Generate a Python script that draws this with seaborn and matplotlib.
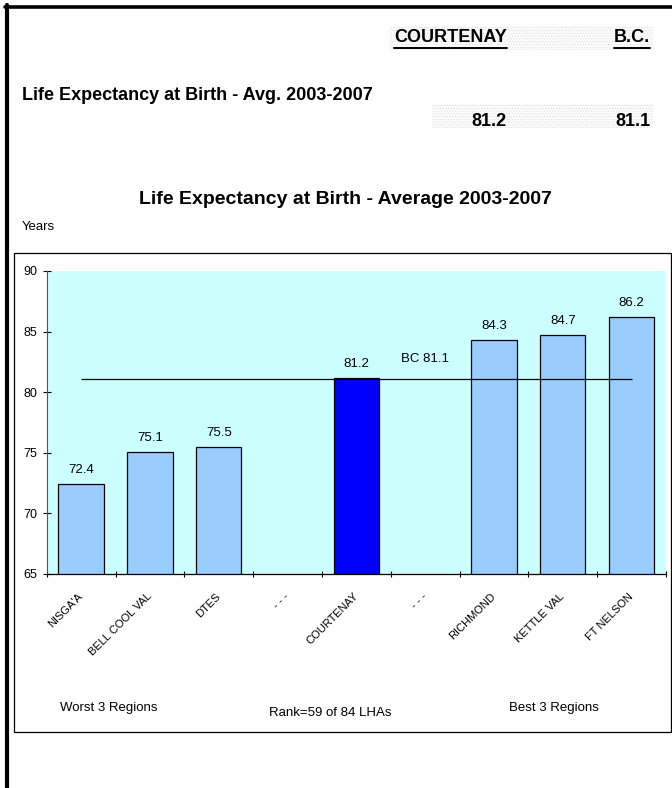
import numpy as np
import pandas as pd
import matplotlib
matplotlib.use("Agg")
import matplotlib.pyplot as plt
from matplotlib.patches import Rectangle
from matplotlib.lines import Line2D
import seaborn as sns

# ── Data ────────────────────────────────────────────────
regions = ["NISGA'A", "BELL COOL VAL", "DTES", "- - -", "COURTENAY",
           "- - -", "RICHMOND", "KETTLE VAL", "FT NELSON"]
life_exp = [72.4, 75.1, 75.5, np.nan, 81.2, np.nan, 84.3, 84.7, 86.2]
group = ["other", "other", "other", "other", "local",
         "other", "other", "other", "other"]
bc_value = 81.1
local_name = "COURTENAY"
local_value = 81.2
yticks = [65, 70, 75, 80, 85, 90]
footer = ["Worst 3 Regions", "Rank=59 of 84 LHAs", "Best 3 Regions"]

# ── Style ───────────────────────────────────────────────
sns.set_style("ticks")
plt.rcParams["font.family"] = ["Liberation Sans", "DejaVu Sans"]
plt.rcParams["text.color"] = "black"
plt.rcParams["xtick.color"] = "black"
plt.rcParams["ytick.color"] = "black"
plt.rcParams["hatch.linewidth"] = 0.3

W, H = 672, 788


def fx(px):
    return px / W


def fy(py):
    return 1 - py / H


fig = plt.figure(figsize=(W / 100, H / 100), dpi=100)

# page borders (left + top)
fig.add_artist(Line2D([fx(7), fx(7)], [fy(5), 0], color="black", lw=3,
                      transform=fig.transFigure))
fig.add_artist(Line2D([fx(5), 1], [fy(6.5), fy(6.5)], color="black", lw=2.6,
                      transform=fig.transFigure))

# dotted header cells
for (x0, y0, x1, y1) in [(390, 26, 653, 50), (432, 104, 653, 128)]:
    fig.add_artist(Rectangle((fx(x0), fy(y1)), (x1 - x0) / W, (y1 - y0) / H,
                             transform=fig.transFigure, facecolor="#fbfbfb",
                             edgecolor="#d6d6d6", lw=0, hatch="......",
                             zorder=0))

# header table
hdr = []
hdr.append(fig.text(fx(507), fy(38), local_name, ha="right", va="center",
                    fontsize=13, fontweight="bold"))
hdr.append(fig.text(fx(650), fy(38), "B.C.", ha="right", va="center",
                    fontsize=13, fontweight="bold"))
fig.text(fx(22), fy(95), "Life Expectancy at Birth - Avg. 2003-2007",
         ha="left", va="center", fontsize=13, fontweight="bold")
fig.text(fx(507), fy(121), f"{local_value}", ha="right", va="center",
         fontsize=13, fontweight="bold")
fig.text(fx(650), fy(121), f"{bc_value}", ha="right", va="center",
         fontsize=13, fontweight="bold")

# chart frame
fig.add_artist(Rectangle((fx(14), fy(732)), (671 - 14) / W, (732 - 253) / H,
                         transform=fig.transFigure, fill=False,
                         edgecolor="black", lw=0.9))
fig.text(fx(345), fy(199), "Life Expectancy at Birth - Average 2003-2007",
         ha="center", va="center", fontsize=14, fontweight="bold")
fig.text(fx(22), fy(227), "Years", ha="left", va="center", fontsize=9.5)

# ── Bar chart ───────────────────────────────────────────
df = pd.DataFrame({"slot": range(len(regions)), "value": life_exp,
                   "group": group})

ax = fig.add_axes([fx(46.7), fy(574), (666 - 46.7) / W, (574 - 271) / H])
ax.set_facecolor("#CCFFFF")
sns.barplot(data=df, x="slot", y="value", hue="group",
            order=list(range(len(regions))),
            palette={"other": "#99CCFF", "local": "#0000FF"},
            dodge=False, width=0.66, edgecolor="black", linewidth=0.9,
            saturation=1, legend=False, ax=ax)

ax.set_xlim(-0.5, len(regions) - 0.5)
ax.set_ylim(yticks[0], yticks[-1])
ax.set_yticks(yticks)
ax.set_xlabel("")
ax.set_ylabel("")

# BC reference line spanning first to last category
ax.hlines(bc_value, 0, len(regions) - 1, color="black", lw=0.9, zorder=3)
ax.text(5, bc_value + 1.65, f"BC {bc_value}", ha="center", va="center",
        fontsize=9.5)

for i, v in enumerate(life_exp):
    if not np.isnan(v):
        ax.annotate(f"{v}", (i, v), xytext=(0, 10),
                    textcoords="offset points", ha="center", va="center",
                    fontsize=9.5)

ax.set_xticks(range(len(regions)))
ax.set_xticklabels(regions, rotation=45, ha="right", va="center",
                   rotation_mode="anchor", fontsize=8)
ax.set_xticks(np.arange(-0.5, len(regions)), minor=True)
ax.tick_params(axis="x", which="major", bottom=True, length=0, pad=15)
ax.tick_params(axis="x", which="minor", bottom=True, direction="inout",
               length=4.5, width=0.8, color="black")
ax.tick_params(axis="y", left=True, direction="inout", length=6, width=0.8,
               color="black", labelsize=9, pad=4)

for s in ["top", "right"]:
    ax.spines[s].set_visible(False)
ax.spines["left"].set_color("#555555")
ax.spines["left"].set_linewidth(0.8)
ax.spines["bottom"].set_color("black")
ax.spines["bottom"].set_linewidth(0.9)

fig.text(fx(109), fy(708), footer[0], ha="center", va="center", fontsize=9.5)
fig.text(fx(330), fy(713), footer[1], ha="center", va="center", fontsize=9.5)
fig.text(fx(554), fy(708), footer[2], ha="center", va="center", fontsize=9.5)

# underline the header labels
fig.canvas.draw()
for t in hdr:
    bb = t.get_window_extent()
    fig.add_artist(Line2D([bb.x0 / W, bb.x1 / W], [fy(48), fy(48)],
                          color="black", lw=1.4, transform=fig.transFigure))

fig.savefig("out.png", dpi=100)
